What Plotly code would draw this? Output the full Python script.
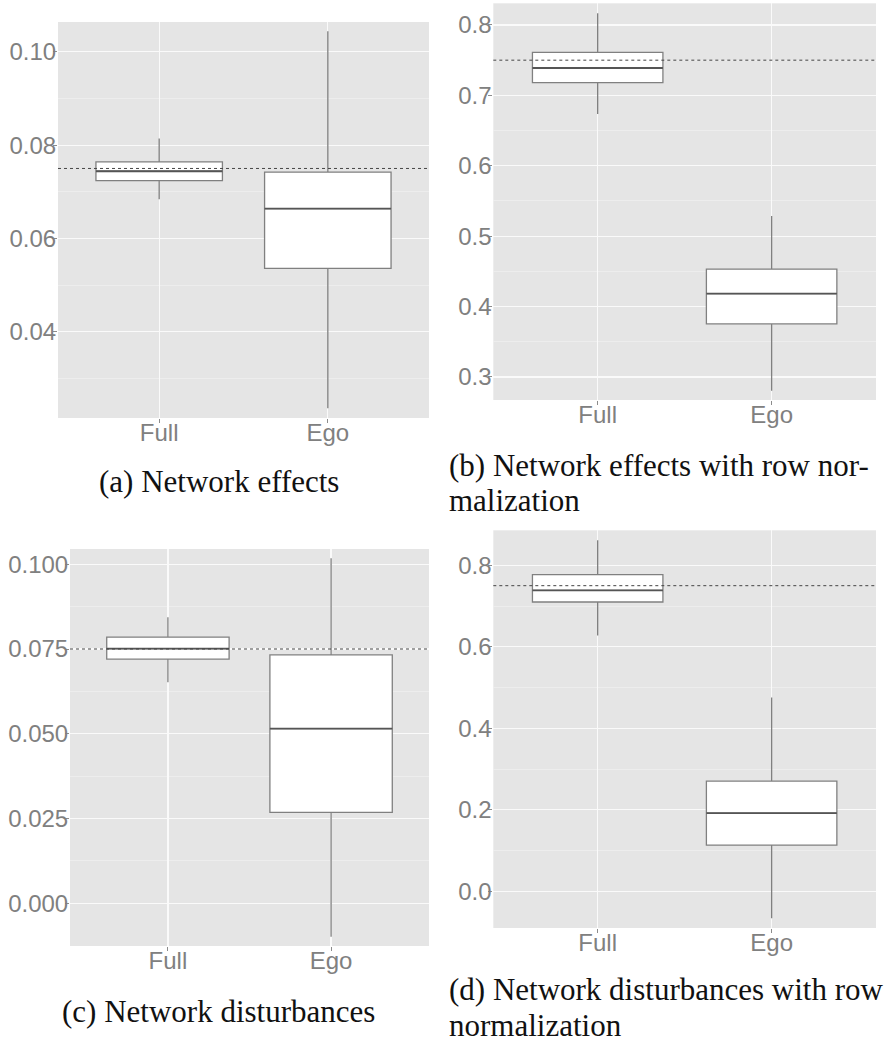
import plotly.graph_objects as go

# ---------------- data ----------------
categories = ["Full", "Ego"]

# (a) Network effects
a_low = [0.0684, 0.0236]
a_q1 = [0.0724, 0.0536]
a_med = [0.0744, 0.0664]
a_q3 = [0.0764, 0.0742]
a_high = [0.0814, 0.1044]
a_ref = 0.075

# (b) Network effects with row normalization
b_low = [0.6736, 0.2805]
b_q1 = [0.7180, 0.3754]
b_med = [0.7389, 0.4185]
b_q3 = [0.7612, 0.4531]
b_high = [0.8166, 0.5288]
b_ref = 0.75

# (c) Network disturbances
c_low = [0.0652, -0.0099]
c_q1 = [0.0720, 0.0268]
c_med = [0.0751, 0.0515]
c_q3 = [0.0785, 0.0733]
c_high = [0.0844, 0.1018]
c_ref = 0.075

# (d) Network disturbances with row normalization
d_low = [0.6277, -0.0663]
d_q1 = [0.7099, 0.1134]
d_med = [0.7387, 0.1919]
d_q3 = [0.7769, 0.2704]
d_high = [0.8613, 0.4753]
d_ref = 0.75

a_ticks = [0.04, 0.06, 0.08, 0.10]
a_ticklabels = ["0.04", "0.06", "0.08", "0.10"]
a_minor = [0.03, 0.05, 0.07, 0.09]
b_ticks = [0.3, 0.4, 0.5, 0.6, 0.7, 0.8]
b_ticklabels = ["0.3", "0.4", "0.5", "0.6", "0.7", "0.8"]
b_minor = [0.35, 0.45, 0.55, 0.65, 0.75]
c_ticks = [0.0, 0.025, 0.05, 0.075, 0.10]
c_ticklabels = ["0.000", "0.025", "0.050", "0.075", "0.100"]
c_minor = [0.0125, 0.0375, 0.0625, 0.0875]
d_ticks = [0.0, 0.2, 0.4, 0.6, 0.8]
d_ticklabels = ["0.0", "0.2", "0.4", "0.6", "0.8"]
d_minor = [-0.1, 0.1, 0.3, 0.5, 0.7]

captions = {
    "a": ["(a) Network effects"],
    "b": ["(b) Network effects with row nor-", "malization"],
    "c": ["(c) Network disturbances"],
    "d": ["(d) Network disturbances with row", "normalization"],
}

# ---------------- layout geometry ----------------
W, H = 885, 1042
BOX_W = 0.75

panels = [
    ("a", (a_low, a_q1, a_med, a_q3, a_high), a_ref, a_ticks, a_ticklabels, a_minor,
     (58, 429), (22, 418), (0.0215, 0.1064)),
    ("b", (b_low, b_q1, b_med, b_q3, b_high), b_ref, b_ticks, b_ticklabels, b_minor,
     (493.3, 876), (3.3, 400), (0.2673, 0.8308)),
    ("c", (c_low, c_q1, c_med, c_q3, c_high), c_ref, c_ticks, c_ticklabels, c_minor,
     (70, 429), (549, 946), (-0.0126, 0.1045)),
    ("d", (d_low, d_q1, d_med, d_q3, d_high), d_ref, d_ticks, d_ticklabels, d_minor,
     (493.3, 876), (530.3, 928), (-0.0901, 0.8859)),
]

fig = go.Figure()
layout = dict(
    width=W, height=H,
    margin=dict(l=0, r=0, t=0, b=0),
    paper_bgcolor="white",
    plot_bgcolor="#e5e5e5",
    showlegend=False,
    shapes=[], annotations=[],
)

tickfont = dict(family="Liberation Sans, Arial, sans-serif", size=24, color="#808080")
capfont = dict(family="Liberation Serif, Times New Roman, serif", size=31, color="#111111")

for i, (key, (lo, q1, med, q3, hi), ref, tv, tt, mn, xp, yp, yr) in enumerate(panels):
    n = "" if i == 0 else str(i + 1)
    xa, ya = "x" + n, "y" + n
    fig.add_trace(go.Box(
        x=categories, lowerfence=lo, q1=q1, median=med, q3=q3, upperfence=hi,
        xaxis=xa, yaxis=ya, width=BOX_W, whiskerwidth=0,
        fillcolor="white", line=dict(color="#808080", width=1.3),
        boxpoints=False, hoverinfo="skip",
    ))
    layout["xaxis" + n] = dict(
        domain=[xp[0] / W, xp[1] / W], anchor=ya,
        type="category", categoryorder="array", categoryarray=categories,
        range=[-0.6, 1.6], showgrid=True, gridcolor="#fafafa", gridwidth=1.2,
        zeroline=False, showline=False, ticks="outside", ticklen=4,
        tickcolor="#8c8c8c", tickwidth=1, tickfont=tickfont, fixedrange=True,
        ticklabelstandoff=-11,
    )
    layout["yaxis" + n] = dict(
        domain=[1 - yp[1] / H, 1 - yp[0] / H], anchor=xa,
        range=list(yr), tickmode="array", tickvals=tv, ticktext=tt,
        showgrid=True, gridcolor="#fafafa", gridwidth=1.2,
        zeroline=False, showline=False, ticks="outside", ticklen=4,
        tickcolor="#8c8c8c", tickwidth=1, tickfont=tickfont, fixedrange=True,
        ticklabelstandoff=-8,
        minor=dict(tickmode="array", tickvals=mn, showgrid=True,
                   gridcolor="#efefef", gridwidth=0.8, ticks=""),
    )
    for j, m in enumerate(med):
        layout["shapes"].append(dict(
            type="line", xref=xa, yref=ya,
            x0=j - BOX_W / 2, x1=j + BOX_W / 2, y0=m, y1=m,
            line=dict(color="#555555", width=1.8), layer="above",
        ))
    layout["shapes"].append(dict(
        type="line", xref=xa + " domain", yref=ya, x0=0, x1=1, y0=ref, y1=ref,
        line=dict(color="#444444", width=1, dash="3px,3px"), layer="above",
    ))

cap_pos = {
    "a": ("center", 218.5, [482]),
    "b": ("left", 447, [465, 500]),
    "c": ("center", 218.5, [1011]),
    "d": ("left", 447, [989, 1025]),
}
for key, lines in captions.items():
    anchor, xpx, ys = cap_pos[key]
    for line, ypx in zip(lines, ys):
        layout["annotations"].append(dict(
            text=line, xref="paper", yref="paper", x=xpx / W, y=1 - ypx / H,
            xanchor=anchor, yanchor="middle", showarrow=False, font=capfont,
        ))

fig.update_layout(**layout)
fig.write_html("out.html", config={"displayModeBar": False, "staticPlot": True})

# remove the browser's default 8px body margin so the figure sits at the page origin
with open("out.html", encoding="utf-8") as f:
    html = f.read()
html = html.replace("<head>", "<head><style>html,body{margin:0;padding:0;overflow:hidden;}</style>", 1)
with open("out.html", "w", encoding="utf-8") as f:
    f.write(html)
